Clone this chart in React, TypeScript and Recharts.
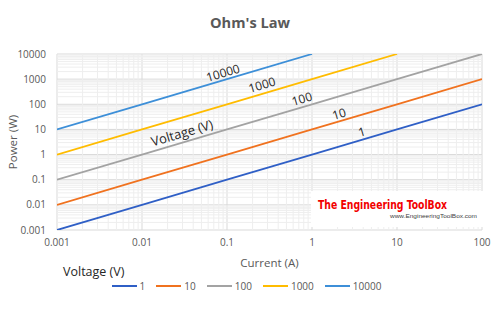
import React from "react";
import {
  LineChart,
  Line,
  XAxis,
  YAxis,
  CartesianGrid,
  ReferenceLine,
  ReferenceDot,
} from "recharts";

// current (A) on the x axis
const currents = [0.001, 0.01, 0.1, 1, 10, 100];

// power (W) for each voltage
const power1 = [0.001, 0.01, 0.1, 1, 10, 100];
const power10 = [0.01, 0.1, 1, 10, 100, 1000];
const power100 = [0.1, 1, 10, 100, 1000, 10000];
const power1000 = [1, 10, 100, 1000, 10000, null];
const power10000 = [10, 100, 1000, 10000, null, null];

const voltages = ["1", "10", "100", "1000", "10000"];
const colors = ["#2F5FC6", "#F0721F", "#A3A3A3", "#FFBC00", "#3D8FD8"];

const xTicks = [0.001, 0.01, 0.1, 1, 10, 100];
const yTicks = [0.001, 0.01, 0.1, 1, 10, 100, 1000, 10000];

const data = currents.map((c, i) => ({
  current: c,
  v1: power1[i],
  v10: power10[i],
  v100: power100[i],
  v1000: power1000[i],
  v10000: power10000[i],
}));

// minor gridlines at 2..9 of every decade
const minorsFor = (ticks: number[]) => {
  const out: number[] = [];
  for (let i = 0; i < ticks.length - 1; i++) {
    for (let k = 2; k <= 9; k++) out.push(+(ticks[i] * k).toPrecision(3));
  }
  return out;
};
const xMinor = minorsFor(xTicks);
const yMinor = minorsFor(yTicks);

const FONT = "'Open Sans', sans-serif";
const ANGLE = -16.5;

const lineLabel = (value: string) => ({
  value,
  position: "center" as const,
  angle: ANGLE,
  fill: "#262626",
  fontSize: 12,
  fontFamily: FONT,
});

export default function App() {
  return (
    <div
      style={{
        position: "absolute",
        left: 0,
        top: 0,
        width: 500,
        height: 309,
        background: "#fff",
        fontFamily: FONT,
      }}
    >
      <div
        style={{
          position: "absolute",
          top: 12,
          width: 500,
          textAlign: "center",
          fontSize: 14.6,
          fontWeight: 700,
          color: "#595959",
        }}
      >
        Ohm's Law
      </div>

      <LineChart
        width={500}
        height={309}
        data={data}
        margin={{ top: 54, right: 18, left: 0, bottom: 0 }}
      >
        {xMinor.map((v) => (
          <ReferenceLine key={`xm-${v}`} x={v} stroke="#EEEEEE" strokeWidth={1} />
        ))}
        {yMinor.map((v) => (
          <ReferenceLine key={`ym-${v}`} y={v} stroke="#EEEEEE" strokeWidth={1} />
        ))}
        <CartesianGrid stroke="#D9D9D9" />
        <XAxis
          dataKey="current"
          type="number"
          scale="log"
          domain={[0.001, 100]}
          ticks={xTicks}
          allowDataOverflow
          axisLine={false}
          tickLine={false}
          tickMargin={3}
          height={79}
          tick={{ fontSize: 10, fill: "#595959", fontFamily: FONT }}
        />
        <YAxis
          type="number"
          scale="log"
          domain={[0.001, 10000]}
          ticks={yTicks}
          allowDataOverflow
          axisLine={false}
          tickLine={false}
          tickMargin={5}
          width={57}
          tick={{ fontSize: 10, fill: "#595959", fontFamily: FONT }}
          label={{
            value: "Power (W)",
            angle: -90,
            position: "insideLeft",
            offset: 13,
            style: { fontSize: 11.5, fill: "#595959", fontFamily: FONT, textAnchor: "middle" },
          }}
        />
        <Line dataKey="v1" stroke={colors[0]} strokeWidth={1.8} dot={false} isAnimationActive={false} />
        <Line dataKey="v10" stroke={colors[1]} strokeWidth={1.8} dot={false} isAnimationActive={false} />
        <Line dataKey="v100" stroke={colors[2]} strokeWidth={1.8} dot={false} isAnimationActive={false} />
        <Line dataKey="v1000" stroke={colors[3]} strokeWidth={1.8} dot={false} isAnimationActive={false} />
        <Line dataKey="v10000" stroke={colors[4]} strokeWidth={1.8} dot={false} isAnimationActive={false} />

        <ReferenceDot x={0.0897} y={1758} r={0} fill="none" stroke="none" label={lineLabel("10000")} />
        <ReferenceDot x={0.258} y={586} r={0} fill="none" stroke="none" label={lineLabel("1000")} />
        <ReferenceDot x={0.762} y={163} r={0} fill="none" stroke="none" label={lineLabel("100")} />
        <ReferenceDot x={2.08} y={41.1} r={0} fill="none" stroke="none" label={lineLabel("10")} />
        <ReferenceDot x={3.87} y={7.9} r={0} fill="none" stroke="none" label={lineLabel("1")} />
        <ReferenceDot x={0.0296} y={7.2} r={0} fill="none" stroke="none" label={{ ...lineLabel("Voltage (V)"), fontSize: 13 }} />
      </LineChart>

      {/* watermark */}
      <svg
        width={172}
        height={36}
        style={{ position: "absolute", left: 311, top: 191 }}
      >
        <rect x={0} y={0} width={172} height={36} fill="#fff" />
        <text
          x={7}
          y={18}
          fontFamily="'DejaVu Sans Condensed', 'DejaVu Sans', sans-serif"
          fontWeight={700}
          fontSize={13}
          fill="#F20000"
          textLength={129}
          lengthAdjust="spacingAndGlyphs"
        >
          The Engineering ToolBox
        </text>
        <text
          x={79}
          y={27}
          fontFamily="'Liberation Sans', sans-serif"
          fontSize={6}
          fill="#404040"
          textLength={87}
          lengthAdjust="spacingAndGlyphs"
        >
          www.EngineeringToolBox.com
        </text>
      </svg>

      {/* x axis title */}
      <div
        style={{
          position: "absolute",
          top: 255,
          left: 57,
          width: 425,
          textAlign: "center",
          fontSize: 11.5,
          color: "#595959",
        }}
      >
        Current (A)
      </div>

      {/* legend */}
      <div
        style={{
          position: "absolute",
          top: 263,
          left: 63,
          fontSize: 12.5,
          color: "#262626",
        }}
      >
        Voltage (V)
      </div>
      <div
        style={{
          position: "absolute",
          top: 279,
          left: 0,
          width: 500,
          display: "flex",
          justifyContent: "center",
          fontSize: 10,
          color: "#595959",
          paddingLeft: 2,
        }}
      >
        {voltages.map((v, i) => (
          <div
            key={v}
            style={{ display: "flex", alignItems: "center", marginRight: 11 }}
          >
            <div style={{ width: 25, height: 2, background: colors[i], marginRight: 3 }} />
            <span>{v}</span>
          </div>
        ))}
      </div>
    </div>
  );
}
